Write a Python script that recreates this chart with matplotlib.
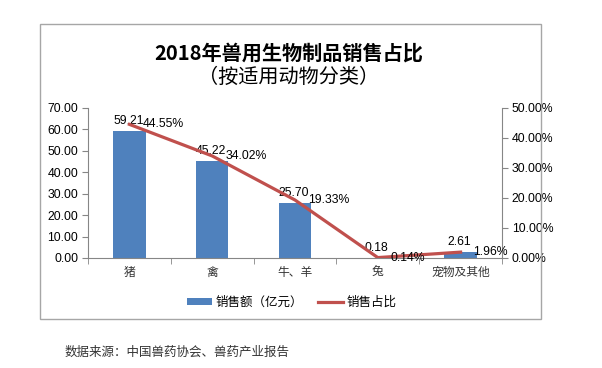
import matplotlib.pyplot as plt
from matplotlib.patches import Rectangle
from matplotlib.lines import Line2D
from matplotlib.patches import Patch

CJK = ['Noto Sans CJK SC', 'DejaVu Sans']
NUM = ['Liberation Sans', 'DejaVu Sans']

# data
categories = ['猪', '禽', '牛、羊', '兔', '宠物及其他']
sales = [59.21, 45.22, 25.70, 0.18, 2.61]          # 亿元
share = [44.55, 34.02, 19.33, 0.14, 1.96]          # %
left_ticks = [0, 10, 20, 30, 40, 50, 60, 70]
right_ticks = [0, 10, 20, 30, 40, 50]

BAR = '#4F81BD'
LINE = '#C0504D'
AXC = '#868686'

fig = plt.figure(figsize=(6.02, 3.68), dpi=100)
fig.patch.set_facecolor('white')

# outer chart frame
fig.patches.append(Rectangle((40 / 602, 1 - 319 / 368), 501 / 602, 295 / 368,
                             transform=fig.transFigure, fill=False,
                             edgecolor='#A6A6A6', linewidth=1.0))

ax = fig.add_axes([88 / 602, 1 - 258 / 368, 414 / 602, 150 / 368])
ax2 = ax.twinx()

x = range(len(categories))
ax.bar(x, sales, width=0.39, color=BAR, zorder=2)
ax2.plot(x, share, color=LINE, linewidth=2.3, zorder=3)

ax.set_xlim(-0.5, len(categories) - 0.5)
ax.set_ylim(0, 70)
ax2.set_ylim(0, 50)

ax.set_yticks(left_ticks)
ax.set_yticklabels([f'{v:.2f}' for v in left_ticks], fontfamily=NUM, fontsize=8.8)
ax2.set_yticks(right_ticks)
ax2.set_yticklabels([f'{v:.2f}%' for v in right_ticks], fontfamily=NUM, fontsize=8.8)

ax.set_xticks(list(x))
ax.set_xticklabels(categories, fontfamily=CJK, fontsize=8.5, color='#333333')
ax.set_xticks([i - 0.5 for i in range(len(categories) + 1)], minor=True)
ax.tick_params(axis='x', which='major', length=0, pad=6)
ax.tick_params(axis='x', which='minor', length=4, color=AXC)
ax.tick_params(axis='y', length=4, color=AXC, pad=3)
ax2.tick_params(axis='y', length=4, color=AXC, pad=3)

for a in (ax, ax2):
    a.spines['top'].set_visible(False)
    for s in ('left', 'right', 'bottom'):
        a.spines[s].set_color(AXC)
ax.spines['right'].set_visible(False)
ax2.spines['left'].set_visible(False)
ax2.spines['bottom'].set_visible(False)

# data labels
for i, v in enumerate(sales):
    ax.annotate(f'{v:.2f}', xy=(i, v), xytext=(-1, 4), textcoords='offset pixels',
                ha='center', va='bottom', fontfamily=NUM, fontsize=8.8, zorder=5)
for i, v in enumerate(share):
    ax2.annotate(f'{v:.2f}%', xy=(i, v), xytext=(13, 0), textcoords='offset pixels',
                 ha='left', va='center', fontfamily=NUM, fontsize=8.8, zorder=5)

# title
fig.text(0.479, 1 - 53 / 368, '2018年兽用生物制品销售占比', ha='center', va='center',
         fontfamily=CJK, fontsize=14.5, fontweight='bold')
fig.text(0.479, 1 - 77 / 368, '（按适用动物分类）', ha='center', va='center',
         fontfamily=CJK, fontsize=14.5)

# legend
handles = [Patch(facecolor=BAR, label='销售额（亿元）'),
           Line2D([0], [0], color=LINE, linewidth=2.3, label='销售占比')]
fig.legend(handles=handles, loc='center', bbox_to_anchor=(0.485, 1 - 302 / 368),
           ncol=2, frameon=False, prop={'family': CJK, 'size': 9},
           handlelength=2.0, handleheight=0.5, handletextpad=0.3, columnspacing=1.2)

# source note
fig.text(65 / 602, 1 - 352 / 368, '数据来源：中国兽药协会、兽药产业报告',
         ha='left', va='center', fontfamily=CJK, fontsize=9, color='#333333')

fig.savefig('out.png', dpi=100, facecolor='white')
